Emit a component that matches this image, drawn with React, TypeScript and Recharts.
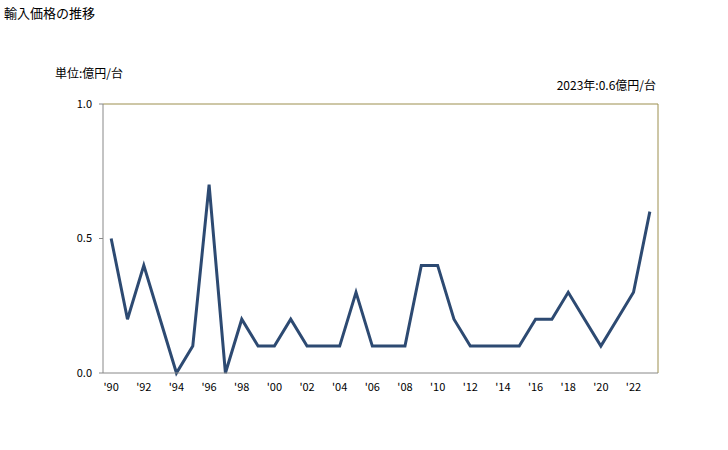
import { LineChart, Line, XAxis, YAxis, ReferenceLine } from "recharts";

const years = [
  1990, 1991, 1992, 1993, 1994, 1995, 1996, 1997, 1998, 1999, 2000, 2001,
  2002, 2003, 2004, 2005, 2006, 2007, 2008, 2009, 2010, 2011, 2012, 2013,
  2014, 2015, 2016, 2017, 2018, 2019, 2020, 2021, 2022, 2023,
];
const prices = [
  0.5, 0.2, 0.4, 0.2, 0.0, 0.1, 0.7, 0.0, 0.2, 0.1, 0.1, 0.2,
  0.1, 0.1, 0.1, 0.3, 0.1, 0.1, 0.1, 0.4, 0.4, 0.2, 0.1, 0.1,
  0.1, 0.1, 0.2, 0.2, 0.3, 0.2, 0.1, 0.2, 0.3, 0.6,
];
const xTicks = [1990, 1992, 1994, 1996, 1998, 2000, 2002, 2004, 2006, 2008, 2010, 2012, 2014, 2016, 2018, 2020, 2022];
const yTicks = [0, 0.5, 1.0];

const data = years.map((y, i) => ({ year: y, price: prices[i] }));

const font = "'Noto Sans CJK JP', 'Noto Sans', sans-serif";

export default function App() {
  return (
    <div style={{ position: "absolute", left: 0, top: 0, width: 728, height: 450, background: "#fff", fontFamily: font }}>
      <div style={{ position: "absolute", left: 4, top: 3, fontSize: 13, color: "#000" }}>輸入価格の推移</div>
      <div style={{ position: "absolute", left: 55, top: 64, fontSize: 12, color: "#000" }}>単位:億円/台</div>
      <div style={{ position: "absolute", right: 72, top: 76, fontSize: 12, color: "#000" }}>2023年:0.6億円/台</div>
      <LineChart width={728} height={450} data={data} margin={{ top: 104, right: 70, bottom: 47, left: 63 }}>
        <XAxis
          dataKey="year"
          type="number"
          domain={[1989.5, 2023.5]}
          ticks={xTicks}
          tickFormatter={(v: number) => "'" + String(v).slice(2)}
          tickLine={false}
          tickSize={0}
          tickMargin={10}
          height={30}
          axisLine={{ stroke: "#888888" }}
          tick={{ fontSize: 11, fill: "#000", fontFamily: font }}
          interval={0}
        />
        <YAxis
          width={40}
          domain={[0, 1]}
          ticks={yTicks}
          tickFormatter={(v: number) => v.toFixed(1)}
          tickSize={4}
          tickMargin={7}
          tickLine={{ stroke: "#888888" }}
          axisLine={{ stroke: "#888888" }}
          tick={{ fontSize: 11, fill: "#000", fontFamily: font }}
          interval={0}
        />
        <ReferenceLine y={1} stroke="#9C8F4E" />
        <ReferenceLine x={2023.5} stroke="#9C8F4E" />
        <Line
          dataKey="price"
          stroke="#2D4A72"
          strokeWidth={3}
          dot={false}
          isAnimationActive={false}
        />
      </LineChart>
    </div>
  );
}
